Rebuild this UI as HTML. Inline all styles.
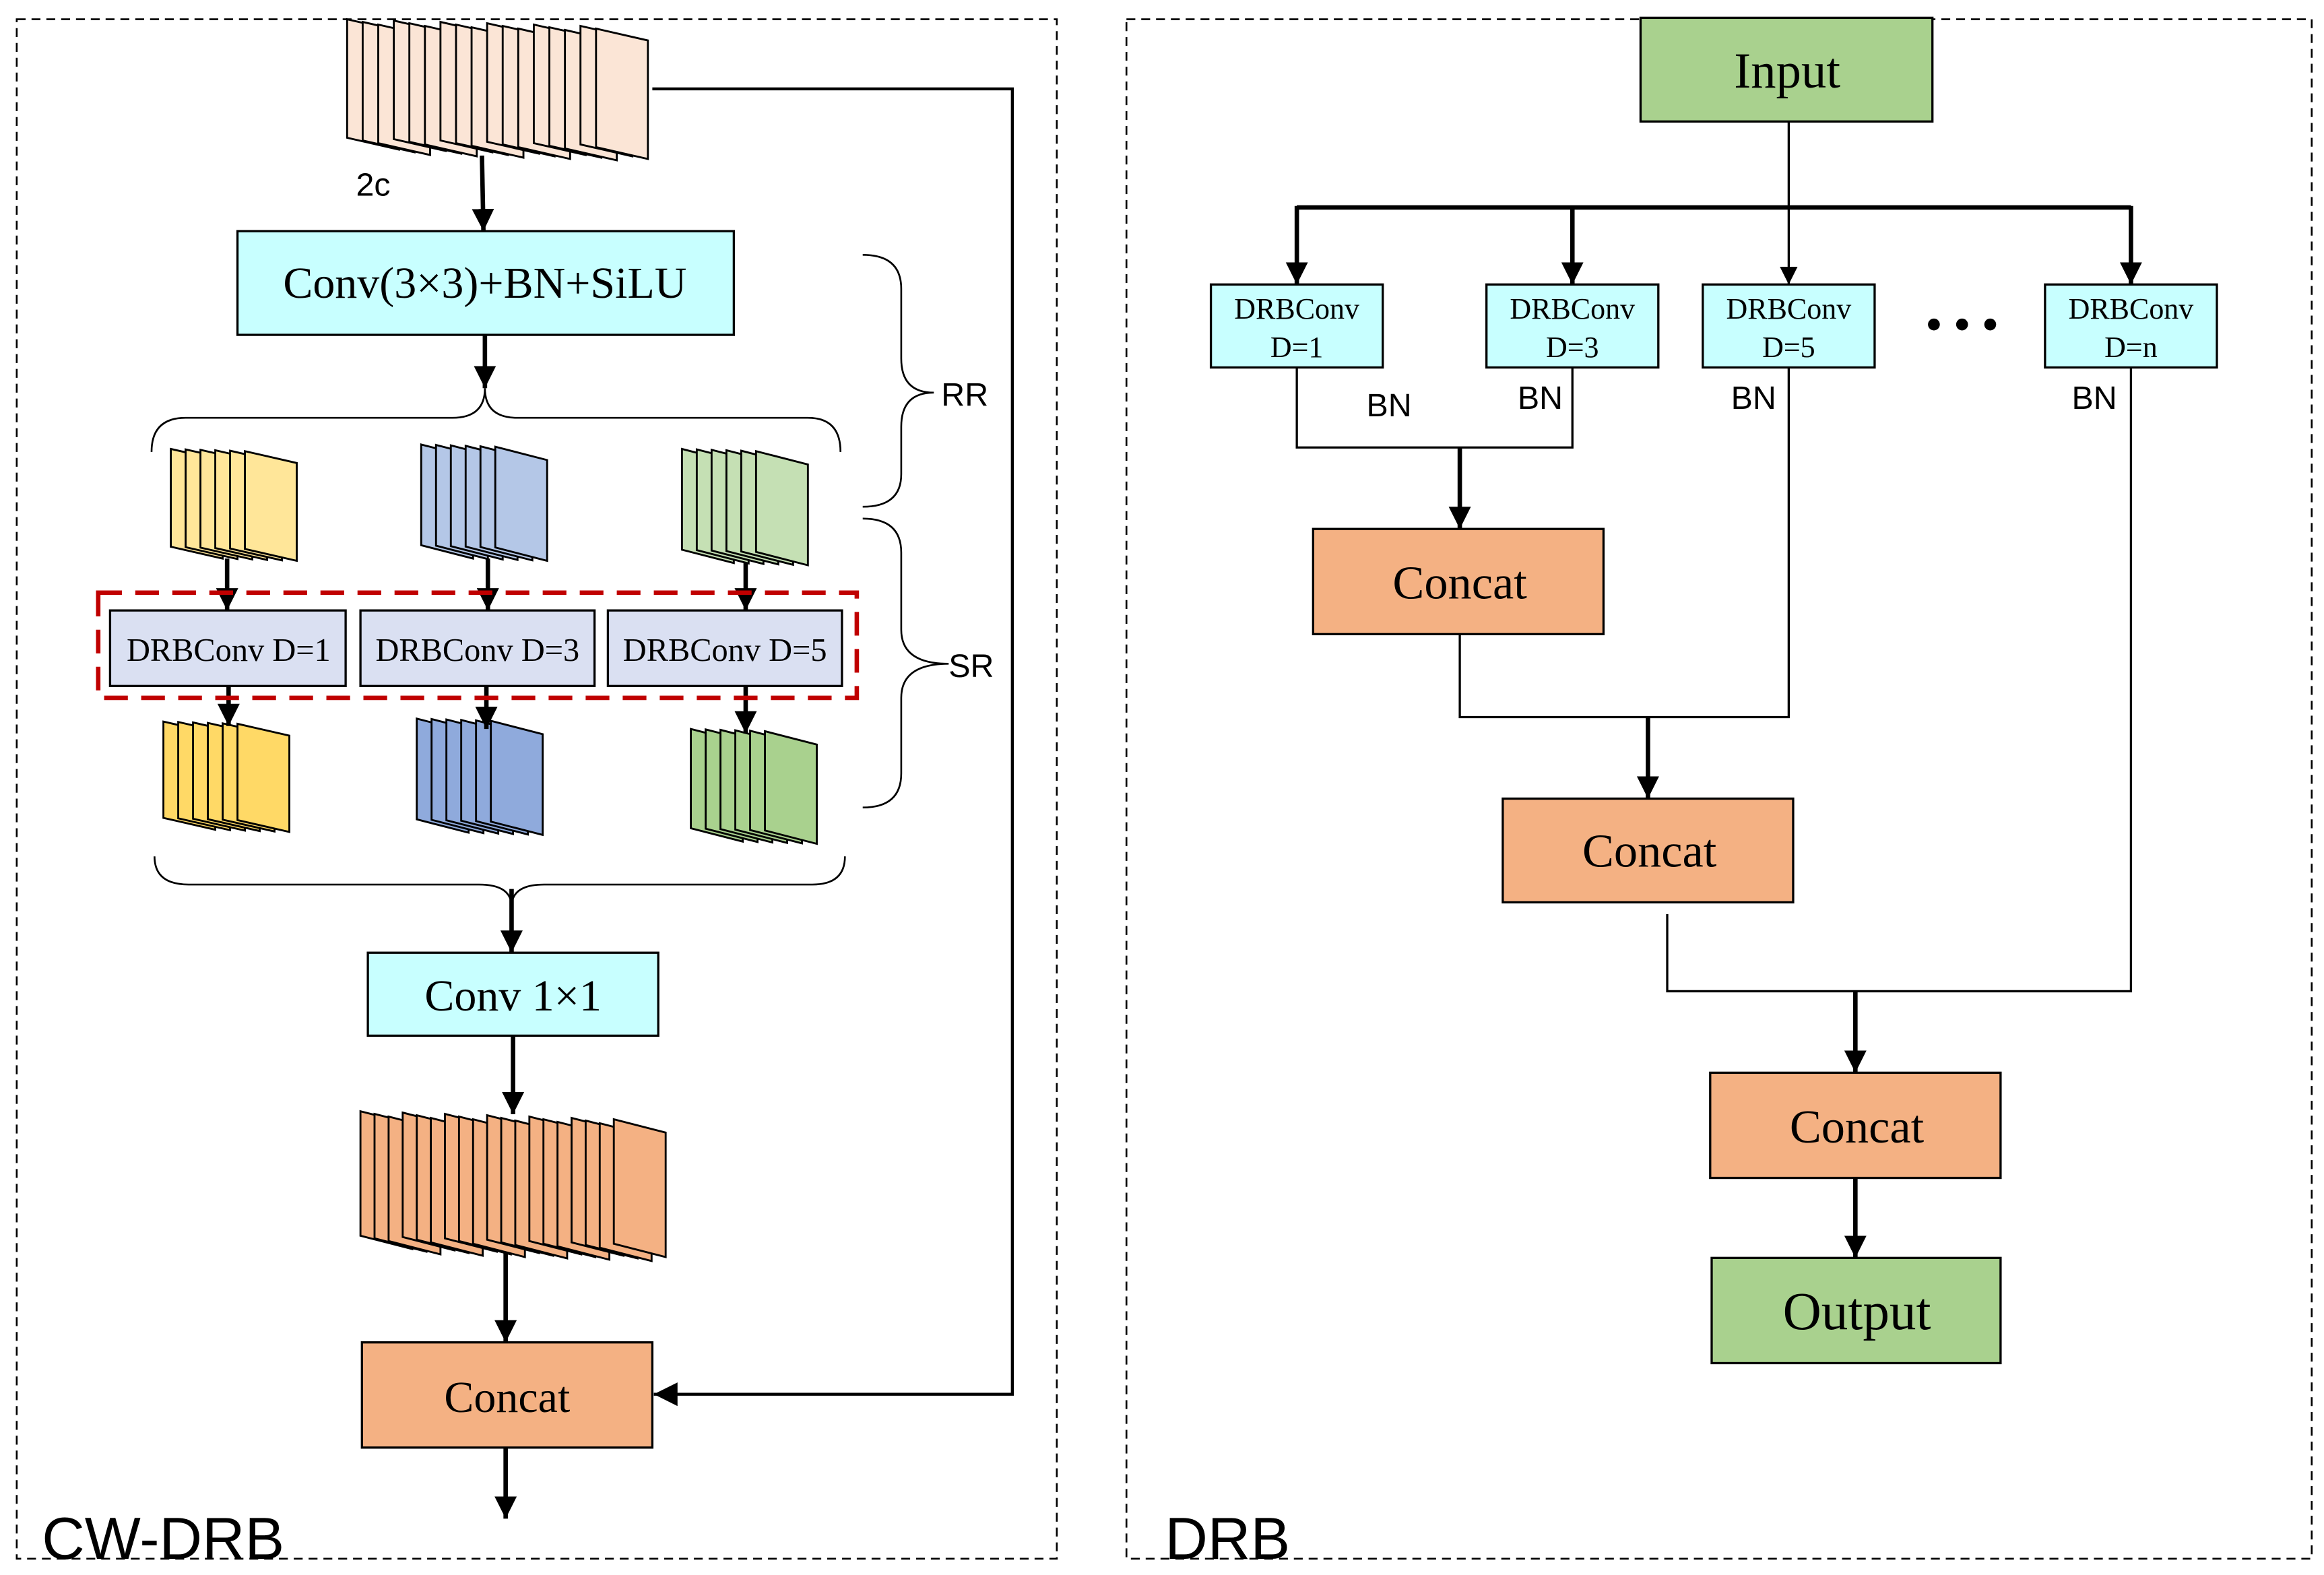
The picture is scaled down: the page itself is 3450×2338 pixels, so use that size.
<!DOCTYPE html>
<html><head><meta charset="utf-8"><style>
html,body{margin:0;padding:0;background:#fff;}
svg{display:block;}
.s{font-family:"Liberation Serif",serif;}
.a{font-family:"Liberation Sans",sans-serif;}
</style></head><body>
<svg id="g" width="3450" height="2338" viewBox="0 0 1568 1063" xmlns="http://www.w3.org/2000/svg">
<defs>
<marker id="ar" viewBox="0 0 10 10" refX="10" refY="5" markerWidth="5" markerHeight="5" orient="auto" markerUnits="strokeWidth"><path d="M0,0 L10,5 L0,10 z" fill="#000"/></marker>
<marker id="ar2" viewBox="0 0 10 10" refX="10" refY="5" markerWidth="8" markerHeight="8" orient="auto" markerUnits="strokeWidth"><path d="M0,0 L10,5 L0,10 z" fill="#000"/></marker>
</defs>
<rect x="11" y="13" width="702" height="1039" fill="none" stroke="#000" stroke-width="1.2" stroke-dasharray="6 4"/>
<rect x="760" y="13" width="800" height="1039" fill="none" stroke="#000" stroke-width="1.2" stroke-dasharray="6 4"/>
<g id="stacks"></g>
<g fill="none" stroke="#000">
<line x1="325" y1="105" x2="326" y2="156" stroke-width="3" marker-end="url(#ar)"/>
<line x1="327" y1="226" x2="327" y2="262" stroke-width="3" marker-end="url(#ar)"/>
<line x1="153" y1="377" x2="153" y2="412" stroke-width="3" marker-end="url(#ar)"/>
<line x1="329" y1="377" x2="329" y2="412" stroke-width="3" marker-end="url(#ar)"/>
<line x1="503" y1="380" x2="503" y2="412" stroke-width="3" marker-end="url(#ar)"/>
<line x1="154" y1="463" x2="154" y2="490" stroke-width="3" marker-end="url(#ar)"/>
<line x1="328" y1="463" x2="328" y2="492" stroke-width="3" marker-end="url(#ar)"/>
<line x1="503" y1="463" x2="503" y2="495" stroke-width="3" marker-end="url(#ar)"/>
<line x1="345" y1="600" x2="345" y2="643" stroke-width="3" marker-end="url(#ar)"/>
<line x1="346" y1="699" x2="346" y2="752" stroke-width="3" marker-end="url(#ar)"/>
<line x1="341" y1="845" x2="341" y2="906" stroke-width="3" marker-end="url(#ar)"/>
<line x1="341" y1="977" x2="341" y2="1025" stroke-width="3" marker-end="url(#ar)"/>
<polyline points="440,60 683,60 683,941 441,941" stroke-width="2" marker-end="url(#ar2)"/>
<path d="M102,305 Q102,282 125,282 L305,282 Q327,282 327,262 Q327,282 349,282 L545,282 Q567,282 567,305" stroke-width="1.2"/>
<path d="M104,578 Q104,597 127,597 L323,597 Q345,597 345,612 Q345,597 367,597 L548,597 Q570,597 570,578" stroke-width="1.2"/>
<path d="M582,172 Q608,172 608,195 L608,242 Q608,265 630,265 Q608,265 608,288 L608,320 Q608,342 582,342" stroke-width="1.2"/>
<path d="M582,350 Q608,350 608,373 L608,425 Q608,448 640,448 Q608,448 608,471 L608,522 Q608,545 582,545" stroke-width="1.2"/>
</g>
<rect x="160" y="156" width="335" height="70" fill="#c8ffff" stroke="#000" stroke-width="1.5"/>
<text x="327" y="201" class="s" font-size="30" text-anchor="middle">Conv(3×3)+BN+SiLU</text>
<rect x="66" y="400" width="512" height="71" fill="none" stroke="#c00000" stroke-width="3" stroke-dasharray="16 9"/>
<g fill="#dae0f2" stroke="#000" stroke-width="1.5">
<rect x="74" y="412" width="159" height="51"/><rect x="243" y="412" width="158" height="51"/><rect x="410" y="412" width="158" height="51"/>
</g>
<g class="s" font-size="22" text-anchor="middle">
<text x="154" y="446">DRBConv D=1</text><text x="322" y="446">DRBConv D=3</text><text x="489" y="446">DRBConv D=5</text>
</g>
<rect x="248" y="643" width="196" height="56" fill="#c8ffff" stroke="#000" stroke-width="1.5"/>
<text x="346" y="682" class="s" font-size="30" text-anchor="middle">Conv 1×1</text>
<rect x="244" y="906" width="196" height="71" fill="#f4b183" stroke="#000" stroke-width="1.5"/>
<text x="342" y="953" class="s" font-size="30" text-anchor="middle">Concat</text>
<g class="a" font-size="22">
<text x="240" y="132">2c</text><text x="635" y="274">RR</text><text x="640" y="457">SR</text>
</g>
<text x="28" y="1052" class="a" font-size="40">CW-DRB</text>
<g fill="none" stroke="#000">
<line x1="1207" y1="82" x2="1207" y2="192" stroke-width="1.5" marker-end="url(#ar2)"/>
<line x1="875" y1="140" x2="1438" y2="140" stroke-width="3"/>
<line x1="875" y1="139" x2="875" y2="192" stroke-width="3" marker-end="url(#ar)"/>
<line x1="1061" y1="139" x2="1061" y2="192" stroke-width="3" marker-end="url(#ar)"/>
<line x1="1438" y1="139" x2="1438" y2="192" stroke-width="3" marker-end="url(#ar)"/>
<polyline points="875,248 875,302 1061,302 1061,248" stroke-width="1.5"/>
<line x1="985" y1="302" x2="985" y2="357" stroke-width="3" marker-end="url(#ar)"/>
<polyline points="985,428 985,484 1207,484 1207,248" stroke-width="1.5"/>
<line x1="1112" y1="484" x2="1112" y2="539" stroke-width="3" marker-end="url(#ar)"/>
<polyline points="1125,617 1125,669 1438,669 1438,248" stroke-width="1.5"/>
<line x1="1252" y1="669" x2="1252" y2="724" stroke-width="3" marker-end="url(#ar)"/>
<line x1="1252" y1="795" x2="1252" y2="849" stroke-width="3" marker-end="url(#ar)"/>
</g>
<rect x="1107" y="12" width="197" height="70" fill="#a9d18e" stroke="#000" stroke-width="1.5"/>
<text x="1206" y="59" class="s" font-size="34" text-anchor="middle">Input</text>
<g fill="#c8ffff" stroke="#000" stroke-width="1.5">
<rect x="817" y="192" width="116" height="56"/><rect x="1003" y="192" width="116" height="56"/><rect x="1149" y="192" width="116" height="56"/><rect x="1380" y="192" width="116" height="56"/>
</g>
<g class="s" font-size="20" text-anchor="middle">
<text x="875" y="215">DRBConv</text><text x="875" y="241">D=1</text>
<text x="1061" y="215">DRBConv</text><text x="1061" y="241">D=3</text>
<text x="1207" y="215">DRBConv</text><text x="1207" y="241">D=5</text>
<text x="1438" y="215">DRBConv</text><text x="1438" y="241">D=n</text>
</g>
<g fill="#000"><circle cx="1305" cy="219" r="4"/><circle cx="1324" cy="219" r="4"/><circle cx="1343" cy="219" r="4"/></g>
<g class="a" font-size="22">
<text x="922" y="281">BN</text><text x="1024" y="276">BN</text><text x="1168" y="276">BN</text><text x="1398" y="276">BN</text>
</g>
<g fill="#f4b183" stroke="#000" stroke-width="1.5">
<rect x="886" y="357" width="196" height="71"/><rect x="1014" y="539" width="196" height="70"/><rect x="1154" y="724" width="196" height="71"/>
</g>
<g class="s" font-size="32" text-anchor="middle">
<text x="985" y="404">Concat</text><text x="1113" y="585">Concat</text><text x="1253" y="771">Concat</text>
</g>
<rect x="1155" y="849" width="195" height="71" fill="#a9d18e" stroke="#000" stroke-width="1.5"/>
<text x="1253" y="897" class="s" font-size="36" text-anchor="middle">Output</text>
<text x="786" y="1052" class="a" font-size="40">DRB</text>
</svg>
<script>
(function(){
var g=document.getElementById('stacks'),ns='http://www.w3.org/2000/svg';
function stack(x0,y0,n,dx,w,h,sk,fill,jit){
 for(var i=0;i<n;i++){
  var x=x0+i*dx, y=y0+(jit?((i%3)*1.5):0)+ i*0.3;
  var p=document.createElementNS(ns,'polygon');
  p.setAttribute('points',x+','+y+' '+(x+w)+','+(y+sk)+' '+(x+w)+','+(y+h+sk)+' '+x+','+(y+h));
  p.setAttribute('fill',fill);p.setAttribute('stroke','#000');p.setAttribute('stroke-width','1.3');
  g.appendChild(p);
 }
}
stack(234,13,17,10.5,35,80,8,'#fbe5d6',true);
stack(115,303,6,10,35,66,8,'#ffe699',false);
stack(284,300,6,10,35,68,9,'#b4c7e7',false);
stack(460,303,6,10,35,68,9,'#c5e0b4',false);
stack(110,487,6,10,35,65,8,'#ffd966',false);
stack(281,485,6,10,35,68,9,'#8faadc',false);
stack(466,492,6,10,35,67,9,'#a9d18e',false);
stack(243,750,19,9.5,35,84,9,'#f4b183',true);
})();
</script>
</body></html>
